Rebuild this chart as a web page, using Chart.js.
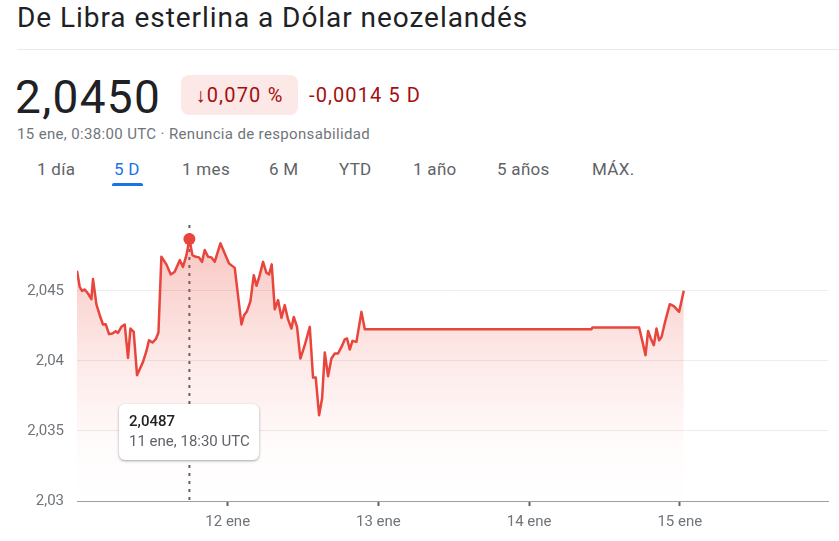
<!DOCTYPE html>
<html><head><meta charset="utf-8">
<script src="https://cdn.jsdelivr.net/npm/chart.js@4.4.1/dist/chart.umd.min.js"></script>
<style>
html,body{margin:0;padding:0;background:#fff;width:839px;height:541px;overflow:hidden;font-family:Roboto,Arial,sans-serif;}
#wrap{position:relative;width:839px;height:541px;}
.abs{position:absolute;white-space:nowrap;}
#title{left:17px;top:0px;font-size:28px;letter-spacing:0.95px;color:#202124;line-height:36px;}
#sep{left:17px;top:49px;width:822px;height:1px;background:#e8eaed;}
#price{left:15px;top:70px;font-size:46px;letter-spacing:1.3px;line-height:54px;color:#202124;}
#badge{left:181px;top:75px;width:117px;height:40px;border-radius:8px;background:#fce8e6;color:#a50e0e;font-size:20px;letter-spacing:1.2px;line-height:40px;text-align:center;}
#chg{left:309px;top:75px;font-size:20px;letter-spacing:1.1px;line-height:40px;color:#a50e0e;}
#sub{left:17px;top:125px;font-size:15px;letter-spacing:0.35px;line-height:18px;color:#70757a;}
.tab{top:158px;font-size:17px;letter-spacing:0.3px;line-height:22px;color:#5f6368;}
.tab.on{color:#1a73e8;}
#ul{left:112px;top:183px;width:31px;height:3px;background:#1a73e8;border-radius:2px 2px 0 0;}
#chartbox{left:0;top:200px;width:839px;height:341px;}
#tip{left:119px;top:404px;width:140px;height:56px;background:#fff;border-radius:6px;box-shadow:0 1px 3px rgba(60,64,67,.35),0 1px 2px rgba(60,64,67,.15);z-index:5;}
#tipv{left:10px;top:8px;font-size:15px;font-weight:500;color:#202124;line-height:18px;}
#tipt{left:10px;top:28px;font-size:15px;color:#5f6368;line-height:18px;}
</style></head>
<body>
<div id="wrap">
  <div id="title" class="abs">De Libra esterlina a Dólar neozelandés</div>
  <div id="sep" class="abs"></div>
  <div id="price" class="abs">2,0450</div>
  <div id="badge" class="abs">↓0,070 %</div>
  <div id="chg" class="abs">-0,0014 5 D</div>
  <div id="sub" class="abs">15 ene, 0:38:00 UTC · Renuncia de responsabilidad</div>
  <div class="abs tab" style="left:37px">1 día</div>
  <div class="abs tab on" style="left:114px">5 D</div>
  <div class="abs tab" style="left:182px">1 mes</div>
  <div class="abs tab" style="left:269px">6 M</div>
  <div class="abs tab" style="left:339px">YTD</div>
  <div class="abs tab" style="left:413px">1 año</div>
  <div class="abs tab" style="left:497px">5 años</div>
  <div class="abs tab" style="left:592px">MÁX.</div>
  <div id="ul" class="abs"></div>
  <div id="chartbox" class="abs"><canvas id="c" width="839" height="341"></canvas></div>
  <div id="tip" class="abs">
    <div id="tipv" class="abs"></div>
    <div id="tipt" class="abs"></div>
  </div>
</div>
<script>
// hours since 11 ene 00:00 UTC
const timesH = [0,0.43,0.8,1.23,1.75,2.29,2.55,3.09,3.62,4.14,
4.57,5.1,5.64,6.16,6.53,7.07,7.6,8.12,8.51,9.03,
9.56,9.99,10.51,11.05,11.47,12.01,12.54,12.97,13.44,14.24,
14.93,15.56,16.36,16.88,17.43,17.9,18.38,18.91,19.43,19.91,
20.34,20.87,21.41,21.93,22.84,23.53,24.21,25.12,26.19,26.6,
27.08,27.62,28.15,28.58,29.1,29.63,30.17,30.58,31.01,31.49,
32.02,32.56,33.08,33.61,34.15,34.52,35.04,35.58,36.27,37.07,
37.59,38.02,38.55,39.03,39.46,39.98,40.52,41.05,41.57,42.12,
42.64,43.01,43.44,43.87,44.5,45.3,45.83,81.94,82.07,89.52,
90.06,90.54,90.95,91.38,91.86,92.29,92.7,93.09,93.61,94.41,
95.05,95.89,96.63];
const rates = [2.04643,2.04529,2.045,2.0451,2.04481,2.04441,2.04584,2.04403,2.04326,2.0426,
2.04262,2.04191,2.04196,2.04212,2.042,2.04243,2.0426,2.04021,2.04231,2.04207,
2.03898,2.03941,2.03993,2.04069,2.04148,2.04131,2.04155,2.04203,2.04743,2.04689,
2.04617,2.04636,2.04719,2.04671,2.04755,2.0487,2.04755,2.04743,2.04739,2.04707,
2.04791,2.04743,2.04739,2.04707,2.04839,2.04767,2.04696,2.04664,2.0426,2.04326,
2.04355,2.04426,2.04612,2.04536,2.04612,2.04707,2.04629,2.04617,2.04689,2.04369,
2.04434,2.04307,2.04398,2.04296,2.04231,2.04314,2.04243,2.04017,2.04112,2.04243,
2.03881,2.03881,2.03612,2.03731,2.0406,2.03891,2.04017,2.04053,2.04053,2.041,
2.04153,2.0416,2.04081,2.04143,2.04136,2.0435,2.04226,2.04226,2.04239,2.04239,
2.04136,2.04041,2.04214,2.0416,2.04112,2.04231,2.04148,2.04171,2.04271,2.04405,
2.04391,2.0435,2.045];
const xTickValues = [24,48,72,96];
const xTickLabels = ['12 ene','13 ene','14 ene','15 ene'];
const yTickValues = [2.03,2.035,2.04,2.045];
const yTickLabels = ['2,03','2,035','2,04','2,045'];
const tooltipValue = '2,0487';
const tooltipTime = '11 ene, 18:30 UTC';

document.getElementById('tipv').textContent = tooltipValue;
document.getElementById('tipt').textContent = tooltipTime;

let peak = 0;
rates.forEach((v,i)=>{ if(v>rates[peak]) peak=i; });

const RED = '#e8453c';
Chart.defaults.font.family = 'Roboto, Arial, sans-serif';

const crosshair = {
  id:'crosshair',
  beforeDatasetsDraw(chart){
    const ctx = chart.ctx, a = chart.chartArea;
    const x = chart.scales.x.getPixelForValue(timesH[peak]);
    ctx.save();
    ctx.strokeStyle = '#5f6368';
    ctx.lineWidth = 2;
    ctx.setLineDash([3,5]);
    ctx.beginPath();
    ctx.moveTo(x, a.top);
    ctx.lineTo(x, a.bottom);
    ctx.stroke();
    ctx.restore();
  }
};

new Chart(document.getElementById('c'), {
  type:'line',
  data:{
    datasets:[{
      data: timesH.map((t,i)=>({x:t,y:rates[i]})),
      borderColor: RED,
      borderWidth: 2.5,
      borderJoinStyle: 'round',
      tension: 0,
      pointRadius: ctx => ctx.dataIndex===peak ? 6 : 0,
      pointBackgroundColor: RED,
      pointBorderWidth: 0,
      fill: 'start',
      backgroundColor: ctx => {
        const a = ctx.chart.chartArea;
        if(!a) return 'rgba(0,0,0,0)';
        const g = ctx.chart.ctx.createLinearGradient(0,a.top,0,a.bottom);
        g.addColorStop(0,'rgba(234,67,53,0.32)');
        g.addColorStop(0.5,'rgba(234,67,53,0.11)');
        g.addColorStop(0.8,'rgba(234,67,53,0.02)');
        g.addColorStop(1,'rgba(234,67,53,0)');
        return g;
      }
    }]
  },
  options:{
    responsive:false,
    animation:false,
    events:[],
    layout:{padding:{top:25,right:11,bottom:0,left:0}},
    plugins:{legend:{display:false},tooltip:{enabled:false}},
    scales:{
      x:{
        type:'linear', min:0, max:119.6,
        afterBuildTicks: s => { s.ticks = xTickValues.map(v=>({value:v})); },
        afterFit: s => { s.height = 40; },
        ticks:{ callback:(v,i)=>xTickLabels[i], color:'#70757a', font:{size:15}, padding:7, maxRotation:0, autoSkip:false },
        grid:{ drawOnChartArea:false, drawTicks:true, tickLength:5, tickColor:'#5f6368', tickWidth:2 },
        border:{ display:true, color:'#9aa0a6', width:1 }
      },
      y:{
        type:'linear', min:2.03, max:2.0497,
        afterBuildTicks: s => { s.ticks = yTickValues.map(v=>({value:v})); },
        afterFit: s => { s.width = 77; },
        ticks:{ callback:(v,i)=>yTickLabels[i], color:'#70757a', font:{size:15}, padding:13 },
        grid:{ color:'#ececec', drawTicks:false, lineWidth:1 },
        border:{ display:false }
      }
    }
  },
  plugins:[crosshair]
});
</script>
</body></html>
